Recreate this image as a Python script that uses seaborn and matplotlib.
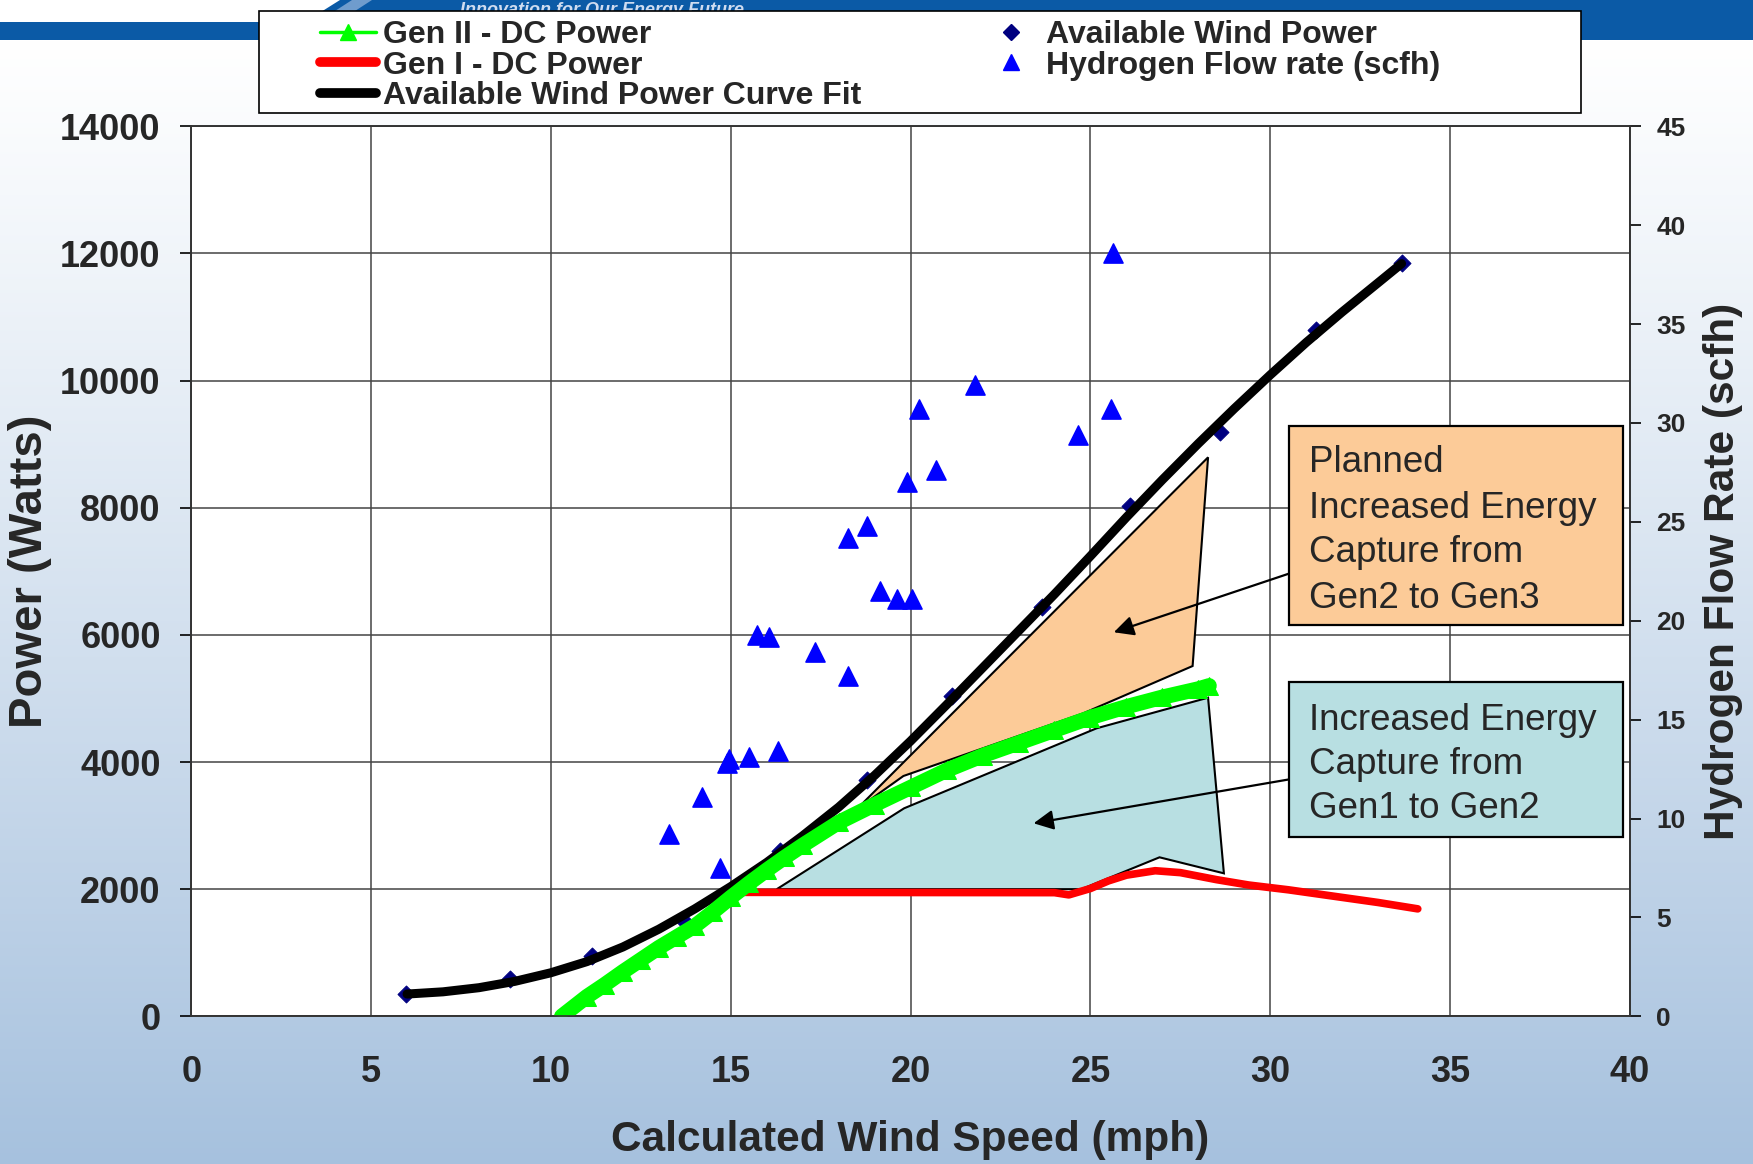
import numpy as np
import pandas as pd
import matplotlib
matplotlib.use("Agg")
import matplotlib.pyplot as plt
import seaborn as sns
from matplotlib.patches import Polygon, Rectangle
from matplotlib.lines import Line2D
from matplotlib.colors import to_rgb

# ---------------- data ----------------
wind_speed = [5.97, 8.86, 11.14, 13.66, 16.38, 18.78, 21.16, 23.65, 26.10, 28.60, 31.26, 33.65]
wind_power = [350, 587, 952, 1515, 2600, 3717, 5038, 6443, 8027, 9194, 10796, 11855]

fit_speed = [6, 7, 8, 9, 10, 11, 12, 13, 14, 15, 16, 17, 18, 19, 20, 21, 22, 23, 24, 25,
             26, 27, 28, 29, 30, 31, 32, 33, 33.65]
fit_power = [350, 385, 450, 550, 685, 860, 1090, 1370, 1690, 2040, 2420, 2840, 3290, 3790,
             4330, 4900, 5480, 6060, 6640, 7240, 7850, 8440, 9010, 9560, 10090, 10600,
             11080, 11540, 11840]

gen2_speed = [10.3, 11, 11.5, 12, 12.5, 13, 13.5, 14, 14.5, 15, 15.5, 16, 16.5, 17, 18, 19,
              20, 21, 22, 23, 24, 25, 26, 27, 28, 28.3]
gen2_power = [0, 310, 500, 700, 890, 1080, 1250, 1420, 1640, 1870, 2090, 2300, 2500, 2690,
              3050, 3330, 3600, 3870, 4100, 4300, 4500, 4700, 4870, 5020, 5150, 5200]

gen1_speed = [14.9, 24.0, 24.4, 25.0, 25.5, 26.0, 26.8, 27.5, 28.5, 29.4, 30.5, 32.0, 33.0, 34.1]
gen1_power = [1950, 1945, 1910, 2010, 2130, 2220, 2290, 2260, 2150, 2065, 1990, 1870, 1790, 1690]

h2_speed = [25.62, 21.79, 20.23, 25.56, 24.66, 20.72, 19.89, 18.80, 18.25, 19.15, 19.61, 20.03,
            15.74, 16.05, 17.34, 18.25, 16.30, 15.52, 14.96, 14.90, 14.19, 13.27, 14.70]
h2_flow = [38.6, 31.9, 30.7, 30.7, 29.4, 27.6, 27.0, 24.8, 24.2, 21.5, 21.1, 21.1,
           19.3, 19.2, 18.4, 17.2, 13.4, 13.1, 13.0, 12.8, 11.1, 9.2, 7.5]

# annotation shapes (data coordinates)
planned_x = [18.5, 28.27, 27.84, 24.8, 19.8]
planned_y = [3256, 8793, 5510, 4766, 3780]
gain_x = [16.28, 19.82, 25.17, 28.27, 28.71, 26.92, 24.75]
gain_y = [2000, 3272, 4530, 5012, 2249, 2501, 2000]

x_ticks = [0, 5, 10, 15, 20, 25, 30, 35, 40]
y_ticks = [0, 2000, 4000, 6000, 8000, 10000, 12000, 14000]
y2_ticks = [0, 5, 10, 15, 20, 25, 30, 35, 40, 45]

legend_labels = ["Gen II - DC Power", "Gen I - DC Power", "Available Wind Power Curve Fit",
                 "Available Wind Power", "Hydrogen Flow rate (scfh)"]

# ---------------- style ----------------
sns.set_style("white")
plt.rcParams['font.family'] = ['Liberation Sans', 'DejaVu Sans']

W, H = 1753, 1164
fig = plt.figure(figsize=(W / 100, H / 100), dpi=100)

# background (gradient + header band)
bg = fig.add_axes([0, 0, 1, 1], zorder=-5)
bg.set_xlim(0, W)
bg.set_ylim(H, 0)
bg.axis('off')
top_c = np.array(to_rgb('#ffffff'))
bot_c = np.array(to_rgb('#a6c1de'))
rows = np.arange(H)
t = np.clip((rows - 40) / (H - 40), 0, 1) ** 1.1
grad = top_c[None, :] * (1 - t[:, None]) + bot_c[None, :] * t[:, None]
grad = np.repeat(grad[:, None, :], 2, axis=1)
bg.imshow(grad, extent=[0, W, H, 0], aspect='auto', zorder=0)
bg.add_patch(Polygon([(0, 22), (305, 22), (340, 0), (W, 0), (W, 40), (0, 40)],
                     closed=True, facecolor='#0b5aa6', edgecolor='none', zorder=1))
bg.add_patch(Polygon([(318, 22), (352, 0), (372, 0), (338, 22)],
                     closed=True, facecolor='#6f9ccd', edgecolor='none', zorder=1))
bg.text(460, 2, "Innovation for Our Energy Future", fontsize=13, fontstyle='italic',
        fontweight='bold', color='#cfdcf0', va='top', ha='left', zorder=2)
bg.add_patch(Rectangle((259, 11), 1581 - 259, 102, facecolor='white', edgecolor='black',
                       lw=1.2, zorder=3))

# main axes
ax = fig.add_axes([191.2 / W, 1 - 1016.3 / H, (1630 - 191.2) / W, (1016.3 - 126.3) / H])
ax.set_facecolor('white')
ax.set_axisbelow(True)
ax.grid(True, color='#444444', lw=1.1)

ax.add_patch(Polygon(list(zip(gain_x, gain_y)), closed=True, facecolor='#b8dfe2',
                     edgecolor='black', lw=1.5, zorder=2))
ax.add_patch(Polygon(list(zip(planned_x, planned_y)), closed=True, facecolor='#fccb98',
                     edgecolor='black', lw=1.5, zorder=2))

sns.scatterplot(x=wind_speed, y=wind_power, marker='D', color='#000080', s=75,
                edgecolor='#000080', ax=ax, zorder=3, legend=False)
sns.lineplot(x=gen1_speed, y=gen1_power, color='#ff0000', lw=5.5, ax=ax, estimator=None,
             sort=False, zorder=4, legend=False)
sns.lineplot(x=fit_speed, y=fit_power, color='black', lw=6.5, ax=ax, estimator=None,
             sort=False, zorder=4, legend=False)
sns.lineplot(x=gen2_speed, y=gen2_power, color='#00ff00', lw=11, marker='^', markersize=13,
             markeredgecolor='#00ff00', ax=ax, estimator=None, sort=False, zorder=5,
             legend=False)

ax.set_xlim(0, 40)
ax.set_ylim(0, 14000)
ax.set_xticks(x_ticks)
ax.set_yticks(y_ticks)
ax.tick_params(axis='both', direction='out', length=8, width=1.2, color='black',
               labelsize=26)
ax.tick_params(axis='x', pad=20)
ax.tick_params(axis='y', pad=14)
for lab in ax.get_xticklabels() + ax.get_yticklabels():
    lab.set_fontweight('bold')
for s in ax.spines.values():
    s.set_color('#333333')
    s.set_linewidth(1.2)

ax.set_xlabel("Calculated Wind Speed (mph)", fontsize=30.5, fontweight='bold')
ax.xaxis.set_label_coords(0.5, -0.117)
ax.set_ylabel("Power (Watts)", fontsize=34, fontweight='bold')
ax.yaxis.set_label_coords(-0.097, 0.5)

# secondary axis
ax2 = ax.twinx()
sns.scatterplot(x=h2_speed, y=h2_flow, marker='^', color='#0000ff', s=190,
                edgecolor='#0000ff', ax=ax2, zorder=6, legend=False)
ax2.set_ylim(0, 45)
ax2.set_yticks(y2_ticks)
ax2.tick_params(axis='y', direction='out', length=8, width=1.2, color='black',
                labelsize=19, pad=11)
for lab in ax2.get_yticklabels():
    lab.set_fontweight('bold')
for s in ax2.spines.values():
    s.set_color('#333333')
    s.set_linewidth(1.2)
ax2.set_ylabel("Hydrogen Flow Rate (scfh)", fontsize=30.5, fontweight='bold')
ax2.yaxis.set_label_coords(1.051, 0.5)
ax2.grid(False)

# annotation boxes (figure pixel coordinates)
def fx(px):
    return px / W

def fy(py):
    return 1 - py / H

for (x0, y0, x1, y1, col) in [(1289, 426, 1623, 625, '#fccb98'),
                               (1289, 682, 1623, 837, '#b8dfe2')]:
    ax2.add_patch(Rectangle((fx(x0), fy(y1)), fx(x1) - fx(x0), fy(y0) - fy(y1),
                            transform=fig.transFigure, facecolor=col, edgecolor='black',
                            lw=1.6, zorder=8, clip_on=False))

box_texts = [("Planned", 463), ("Increased Energy", 508), ("Capture from", 553),
             ("Gen2 to Gen3", 598),
             ("Increased Energy", 720), ("Capture from", 764), ("Gen1 to Gen2", 809)]
for txt, py in box_texts:
    ax2.text(fx(1309), fy(py), txt, transform=fig.transFigure, fontsize=26.5,
             va='center', ha='left', zorder=9)

arrow_kw = dict(arrowstyle='-|>', color='black', lw=1.6, mutation_scale=30,
                shrinkA=0, shrinkB=0)
ax.annotate('', xy=(25.65, 6041), xytext=(30.96, 7047), arrowprops=arrow_kw,
            annotation_clip=False, zorder=9)
ax.annotate('', xy=(23.42, 3036), xytext=(30.96, 3769), arrowprops=arrow_kw,
            annotation_clip=False, zorder=9)

# legend
handles = [
    Line2D([], [], color='#00ff00', lw=2.5, marker='^', markersize=11,
           markeredgecolor='#00ff00'),
    Line2D([], [], color='#ff0000', lw=7),
    Line2D([], [], color='black', lw=7),
    Line2D([], [], color='#000080', lw=0, marker='D', markersize=8),
    Line2D([], [], color='#0000ff', lw=0, marker='^', markersize=11),
]
leg = fig.legend(handles, legend_labels, ncol=2, loc='upper left',
                 bbox_to_anchor=(320 / W, 1 - 20 / H), frameon=False,
                 prop={'size': 23, 'weight': 'bold'}, handlelength=1.75,
                 handletextpad=0.22, columnspacing=3.8, labelspacing=0.02,
                 borderpad=0, borderaxespad=0)

fig.savefig("out.png", dpi=100)
